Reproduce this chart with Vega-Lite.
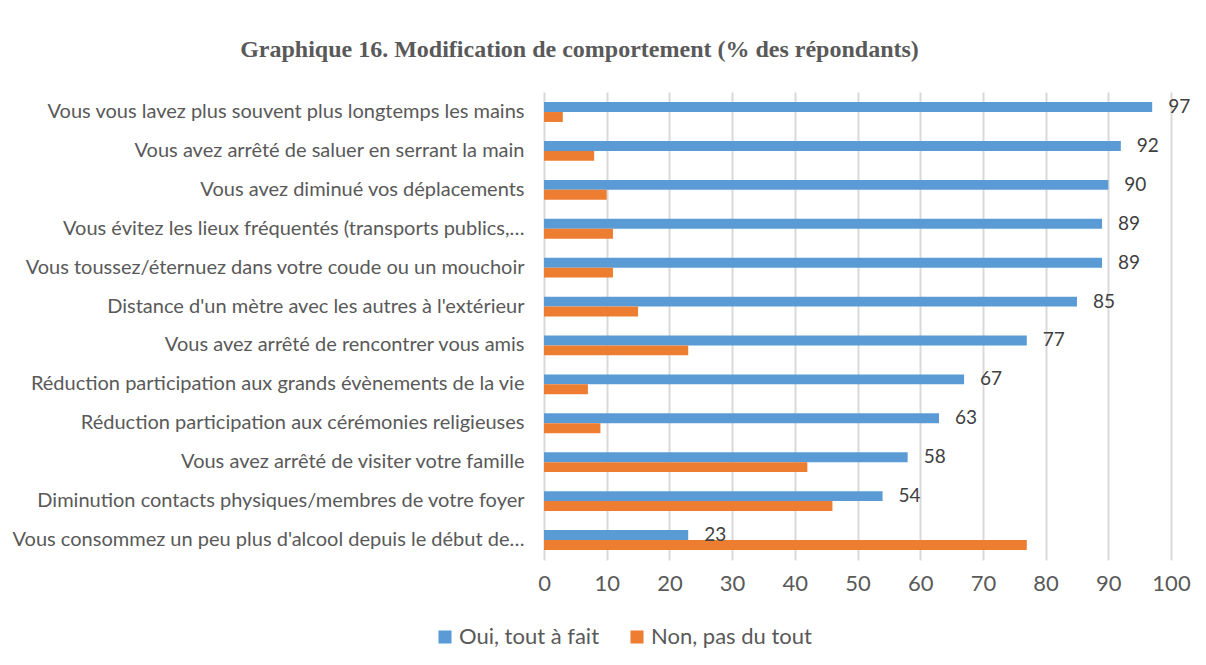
{
  "$schema": "https://vega.github.io/schema/vega-lite/v6.json",
  "autosize": "none",
  "width": 627,
  "height": 468,
  "padding": {"left": 544, "top": 92, "right": 35, "bottom": 105},
  "background": "white",
  "title": {
    "text": "Graphique 16. Modification de comportement (% des répondants)",
    "font": "Liberation Serif",
    "fontSize": 24,
    "fontWeight": "bold",
    "color": "#595959",
    "anchor": "middle",
    "frame": "group",
    "dx": -278,
    "offset": 30
  },
  "config": {"view": {"stroke": null}},
  "data": {
    "values": [
      {"category": "Vous vous lavez plus souvent plus longtemps les mains", "series": "Oui, tout à fait", "value": 97},
      {"category": "Vous vous lavez plus souvent plus longtemps les mains", "series": "Non, pas du tout", "value": 3},
      {"category": "Vous avez arrêté de saluer en serrant la main", "series": "Oui, tout à fait", "value": 92},
      {"category": "Vous avez arrêté de saluer en serrant la main", "series": "Non, pas du tout", "value": 8},
      {"category": "Vous avez diminué vos déplacements", "series": "Oui, tout à fait", "value": 90},
      {"category": "Vous avez diminué vos déplacements", "series": "Non, pas du tout", "value": 10},
      {"category": "Vous évitez les lieux fréquentés (transports publics,…", "series": "Oui, tout à fait", "value": 89},
      {"category": "Vous évitez les lieux fréquentés (transports publics,…", "series": "Non, pas du tout", "value": 11},
      {"category": "Vous toussez/éternuez dans votre coude ou un mouchoir", "series": "Oui, tout à fait", "value": 89},
      {"category": "Vous toussez/éternuez dans votre coude ou un mouchoir", "series": "Non, pas du tout", "value": 11},
      {"category": "Distance d'un mètre avec les autres à l'extérieur", "series": "Oui, tout à fait", "value": 85},
      {"category": "Distance d'un mètre avec les autres à l'extérieur", "series": "Non, pas du tout", "value": 15},
      {"category": "Vous avez arrêté de rencontrer vous amis", "series": "Oui, tout à fait", "value": 77},
      {"category": "Vous avez arrêté de rencontrer vous amis", "series": "Non, pas du tout", "value": 23},
      {"category": "Réduction participation aux grands évènements de la vie", "series": "Oui, tout à fait", "value": 67},
      {"category": "Réduction participation aux grands évènements de la vie", "series": "Non, pas du tout", "value": 7},
      {"category": "Réduction participation aux cérémonies religieuses", "series": "Oui, tout à fait", "value": 63},
      {"category": "Réduction participation aux cérémonies religieuses", "series": "Non, pas du tout", "value": 9},
      {"category": "Vous avez arrêté de visiter votre famille", "series": "Oui, tout à fait", "value": 58},
      {"category": "Vous avez arrêté de visiter votre famille", "series": "Non, pas du tout", "value": 42},
      {"category": "Diminution contacts physiques/membres de votre foyer", "series": "Oui, tout à fait", "value": 54},
      {"category": "Diminution contacts physiques/membres de votre foyer", "series": "Non, pas du tout", "value": 46},
      {"category": "Vous consommez un peu plus d'alcool depuis le début de…", "series": "Oui, tout à fait", "value": 23},
      {"category": "Vous consommez un peu plus d'alcool depuis le début de…", "series": "Non, pas du tout", "value": 77}
    ]
  },
  "encoding": {
    "y": {
      "field": "category",
      "type": "nominal",
      "sort": null,
      "scale": {"paddingInner": 0.49, "paddingOuter": 0.26},
      "axis": {
        "title": null,
        "labelFont": "Lato",
        "labelFontSize": 20,
        "labelColor": "#595959",
        "ticks": false,
        "domain": false,
        "labelPadding": 20,
        "labelLimit": 560,
        "encode": {
          "labels": {
            "update": {
              "dx": [
                {"test": "slice(datum.label, -1) === '…'", "value": 14},
                {"value": 0}
              ]
            }
          }
        }
      }
    },
    "yOffset": {"field": "series", "type": "nominal", "sort": ["Oui, tout à fait", "Non, pas du tout"]},
    "x": {
      "field": "value",
      "type": "quantitative",
      "scale": {"domain": [0, 100]},
      "axis": {
        "title": null,
        "values": [0, 10, 20, 30, 40, 50, 60, 70, 80, 90, 100],
        "grid": true,
        "gridColor": "#d9d9d9",
        "gridWidth": 2,
        "domain": false,
        "ticks": false,
        "labelFlush": false,
        "labelOverlap": false,
        "labelFont": "Lato",
        "labelFontSize": 22,
        "labelColor": "#595959",
        "labelPadding": 13
      }
    }
  },
  "layer": [
    {
      "mark": {"type": "bar"},
      "encoding": {
        "color": {
          "field": "series",
          "type": "nominal",
          "scale": {"domain": ["Oui, tout à fait", "Non, pas du tout"], "range": ["#5b9bd5", "#ed7d31"]},
          "legend": {
            "title": null,
            "orient": "none",
            "direction": "horizontal",
            "legendX": -110,
            "legendY": 534,
            "symbolType": "square",
            "symbolSize": 170,
            "symbolStrokeWidth": 0,
            "labelFont": "Lato",
            "labelFontSize": 22,
            "labelColor": "#595959",
            "labelLimit": 300,
            "columnPadding": 26,
            "labelOffset": 3
          }
        }
      }
    },
    {
      "transform": [{"filter": "datum.series === 'Oui, tout à fait'"}],
      "mark": {"type": "text", "align": "left", "dx": 16, "font": "Lato", "fontSize": 19, "color": "#404040"},
      "encoding": {"text": {"field": "value", "type": "quantitative"}}
    }
  ]
}
